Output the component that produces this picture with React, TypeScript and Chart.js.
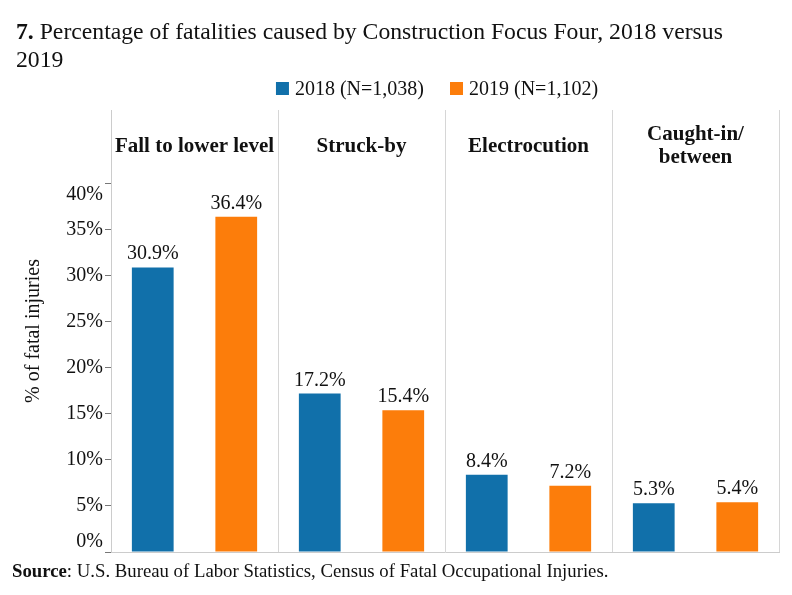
import React, { useEffect, useRef } from "react";
import { Chart, registerables } from "chart.js";

Chart.register(...registerables);

// ---- data ----
const categories: string[][] = [
  ["Fall to lower level"],
  ["Struck-by"],
  ["Electrocution"],
  ["Caught-in/", "between"],
];
const series2018: number[] = [30.9, 17.2, 8.4, 5.3];
const series2019: number[] = [36.4, 15.4, 7.2, 5.4];
const seriesLabels: string[] = ["2018 (N=1,038)", "2019 (N=1,102)"];
const seriesColors: string[] = ["#1170aa", "#fc7d0b"];
const yTickValues: number[] = [0, 5, 10, 15, 20, 25, 30, 35, 40];
const titleBold = "7.";
const titleLine1 = " Percentage of fatalities caused by Construction Focus Four, 2018 versus";
const titleLine2 = "2019";
const sourceBold = "Source";
const sourceText = ": U.S. Bureau of Labor Statistics, Census of Fatal Occupational Injuries.";
const yAxisTitle = "% of fatal injuries";

const FAMILY = '"Liberation Serif", "Times New Roman", serif';
const TEXT = "#111111";

const decorPlugin = {
  id: "decor",
  afterDraw(chart: any) {
    const ctx: CanvasRenderingContext2D = chart.ctx;
    const xs = chart.scales.x;
    const ys = chart.scales.y;
    ctx.save();
    ctx.fillStyle = TEXT;

    // Title
    ctx.textAlign = "left";
    ctx.textBaseline = "alphabetic";
    ctx.font = `bold 23.7px ${FAMILY}`;
    ctx.fillText(titleBold, 16, 39);
    const bw = ctx.measureText(titleBold).width;
    ctx.font = `23.7px ${FAMILY}`;
    ctx.fillText(titleLine1, 16 + bw, 39);
    ctx.fillText(titleLine2, 16, 66.5);

    // Legend
    ctx.font = `20px ${FAMILY}`;
    const box = 13;
    const gap = 6;
    const itemGap = 26;
    const widths = seriesLabels.map((l) => ctx.measureText(l).width);
    const total = widths.reduce((a, w) => a + box + gap + w, 0) + itemGap * (seriesLabels.length - 1);
    let lx = 437 - total / 2;
    seriesLabels.forEach((l, i) => {
      ctx.fillStyle = seriesColors[i];
      ctx.fillRect(lx, 82, box, box);
      ctx.fillStyle = TEXT;
      ctx.fillText(l, lx + box + gap, 95);
      lx += box + gap + widths[i] + itemGap;
    });

    // Category headers inside panels
    ctx.font = `bold 21px ${FAMILY}`;
    ctx.textAlign = "center";
    categories.forEach((lines, i) => {
      const cx = xs.getPixelForValue(i);
      const lh = 23;
      const base = 151.5 - ((lines.length - 1) * lh) / 2;
      lines.forEach((t, k) => ctx.fillText(t, cx, base + k * lh));
    });

    // Y tick labels
    ctx.font = `20px ${FAMILY}`;
    ctx.textAlign = "right";
    const maxTick = Math.max(...yTickValues);
    const minTick = Math.min(...yTickValues);
    yTickValues.forEach((v) => {
      const py = ys.getPixelForValue(v);
      ctx.textBaseline = v === maxTick ? "top" : v === minTick ? "bottom" : "middle";
      ctx.fillText(`${v}%`, ys.right - 8, v === maxTick ? py + 1 : py);
    });

    // Data labels
    ctx.textAlign = "center";
    ctx.textBaseline = "alphabetic";
    chart.data.datasets.forEach((ds: any, di: number) => {
      const meta = chart.getDatasetMeta(di);
      meta.data.forEach((el: any, j: number) => {
        ctx.fillText(`${Number(ds.data[j]).toFixed(1)}%`, el.x, el.y - 8);
      });
    });

    // Source
    ctx.textAlign = "left";
    ctx.font = `bold 18.75px ${FAMILY}`;
    ctx.fillText(sourceBold, 12, 577);
    const sw = ctx.measureText(sourceBold).width;
    ctx.font = `18.75px ${FAMILY}`;
    ctx.fillText(sourceText, 12 + sw, 577);

    ctx.restore();
  },
};

export default function App() {
  const ref = useRef<HTMLCanvasElement | null>(null);

  useEffect(() => {
    if (!ref.current) return;
    const chart = new Chart(ref.current, {
      type: "bar",
      data: {
        labels: categories,
        datasets: [
          {
            label: seriesLabels[0],
            data: series2018,
            backgroundColor: seriesColors[0],
            categoryPercentage: 1,
            barPercentage: 0.5,
          },
          {
            label: seriesLabels[1],
            data: series2019,
            backgroundColor: seriesColors[1],
            categoryPercentage: 1,
            barPercentage: 0.5,
          },
        ],
      },
      options: {
        responsive: false,
        animation: false,
        devicePixelRatio: 1,
        layout: { padding: { top: 110, bottom: 43, left: 0, right: 13 } },
        plugins: {
          legend: { display: false },
          tooltip: { enabled: false },
          title: { display: false },
        },
        scales: {
          x: {
            grid: { offset: true, color: "#d6d6d6", drawTicks: false, lineWidth: 1 },
            border: { color: "#cccccc" },
            ticks: { display: false },
            afterFit: (s: any) => {
              s.height = 0;
            },
          },
          y: {
            min: 0,
            max: 48,
            ticks: { display: false, stepSize: 5 },
            afterBuildTicks: (s: any) => {
              s.ticks = s.ticks.filter((t: any) => yTickValues.includes(t.value));
            },
            grid: { drawOnChartArea: false, drawTicks: true, tickLength: 6, tickColor: "#777777" },
            border: { color: "#cccccc" },
            title: {
              display: true,
              text: yAxisTitle,
              color: TEXT,
              font: { family: FAMILY, size: 20, weight: "normal" },
              padding: { top: 22, bottom: 0 },
            },
            afterFit: (s: any) => {
              s.width = 111;
            },
          },
        },
      } as any,
      plugins: [decorPlugin],
    });
    return () => chart.destroy();
  }, []);

  return (
    <div style={{ position: "absolute", left: 0, top: 0, width: 792, height: 595, background: "#fff" }}>
      <canvas ref={ref} width={792} height={595} style={{ display: "block" }} />
    </div>
  );
}
